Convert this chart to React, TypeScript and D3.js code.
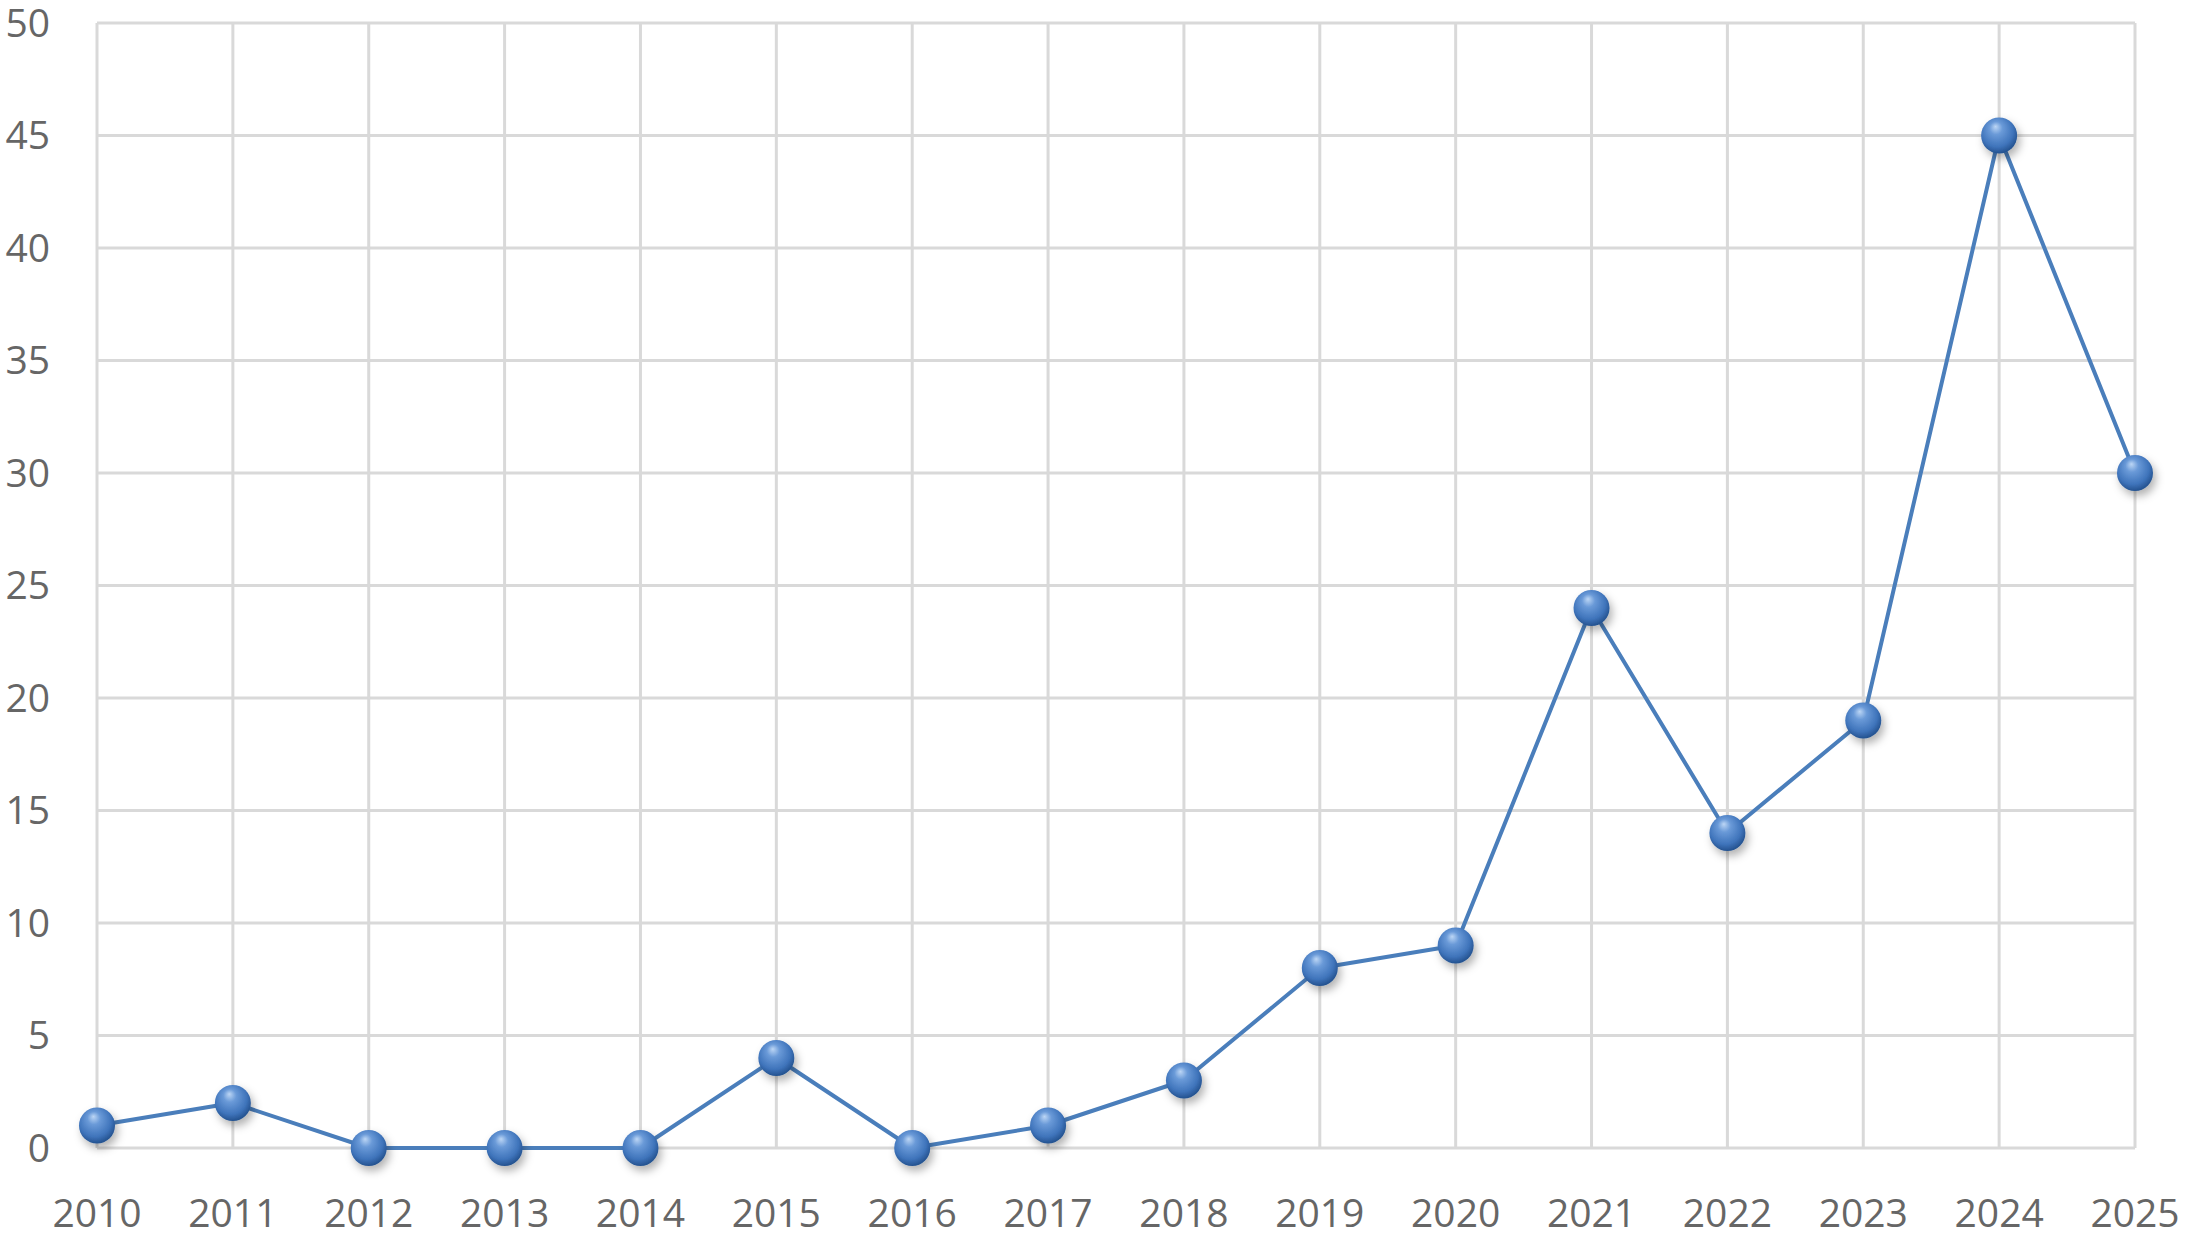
import * as d3 from "d3";
import React, { useRef, useEffect } from "react";

const years = ["2010", "2011", "2012", "2013", "2014", "2015", "2016", "2017",
  "2018", "2019", "2020", "2021", "2022", "2023", "2024", "2025"];
const counts = [1, 2, 0, 0, 0, 4, 0, 1, 3, 8, 9, 24, 14, 19, 45, 30];
const yTicks = [0, 5, 10, 15, 20, 25, 30, 35, 40, 45, 50];

export default function App() {
  const svgRef = useRef<SVGSVGElement>(null);
  const width = 2187;
  const height = 1233;
  const marginTop = 23; // top gridline
  const marginLeft = 97;
  const marginRight = 52;
  const marginBottom = 85;

  useEffect(() => {
    const svg = d3.select(svgRef.current);
    svg.selectAll("*").remove();

    const x = d3.scalePoint<string>()
      .domain(years)
      .range([marginLeft, width - marginRight]);

    const y = d3.scaleLinear()
      .domain([0, 50])
      .range([height - marginBottom, marginTop]);

    const defs = svg.append("defs");
    const grad = defs.append("radialGradient")
      .attr("id", "ball")
      .attr("cx", "45%").attr("cy", "40%").attr("r", "60%")
      .attr("fx", "40%").attr("fy", "25%");
    grad.append("stop").attr("offset", "0%").attr("stop-color", "#bcd6f5");
    grad.append("stop").attr("offset", "30%").attr("stop-color", "#6a9ad8");
    grad.append("stop").attr("offset", "75%").attr("stop-color", "#3f74bb");
    grad.append("stop").attr("offset", "100%").attr("stop-color", "#24528f");

    const shadow = defs.append("filter").attr("id", "shadow")
      .attr("x", "-50%").attr("y", "-50%").attr("width", "200%").attr("height", "200%");
    shadow.append("feDropShadow")
      .attr("dx", 3).attr("dy", 5).attr("stdDeviation", 4)
      .attr("flood-color", "#000").attr("flood-opacity", 0.3);

    // grid
    const grid = svg.append("g");
    grid.selectAll("line.h")
      .data(yTicks)
      .enter().append("line")
      .attr("x1", marginLeft).attr("x2", width - marginRight)
      .attr("y1", d => y(d)).attr("y2", d => y(d))
      .attr("stroke", "#d9d9d9").attr("stroke-width", 3);
    grid.selectAll("line.v")
      .data(years)
      .enter().append("line")
      .attr("x1", d => x(d)!).attr("x2", d => x(d)!)
      .attr("y1", marginTop).attr("y2", height - marginBottom)
      .attr("stroke", "#d9d9d9").attr("stroke-width", 3);

    // y labels
    svg.append("g").selectAll("text")
      .data(yTicks)
      .enter().append("text")
      .attr("x", 50)
      .attr("y", d => y(d))
      .attr("dy", "0.35em")
      .attr("text-anchor", "end")
      .style("font-family", "'Open Sans', sans-serif")
      .style("font-size", "39px")
      .style("fill", "#666666")
      .text(d => d);

    // x labels
    svg.append("g").selectAll("text")
      .data(years)
      .enter().append("text")
      .attr("x", d => x(d)!)
      .attr("y", 1227)
      .attr("text-anchor", "middle")
      .style("font-family", "'Open Sans', sans-serif")
      .style("font-size", "39px")
      .style("fill", "#666666")
      .text(d => d);

    const line = d3.line<number>()
      .x((d, i) => x(years[i])!)
      .y(d => y(d));

    svg.append("path")
      .datum(counts)
      .attr("d", line)
      .attr("fill", "none")
      .attr("stroke", "#4a7ebb")
      .attr("stroke-width", 4)
      .attr("stroke-linejoin", "round");

    svg.append("g").selectAll("circle")
      .data(counts)
      .enter().append("circle")
      .attr("cx", (d, i) => x(years[i])!)
      .attr("cy", d => y(d))
      .attr("r", 18)
      .attr("fill", "url(#ball)")
      .attr("filter", "url(#shadow)");
  }, []);

  return (
    <div style={{ position: "absolute", left: 0, top: 0 }}>
      <svg ref={svgRef} width={width} height={height} style={{ display: "block", background: "#fff" }} />
    </div>
  );
}
